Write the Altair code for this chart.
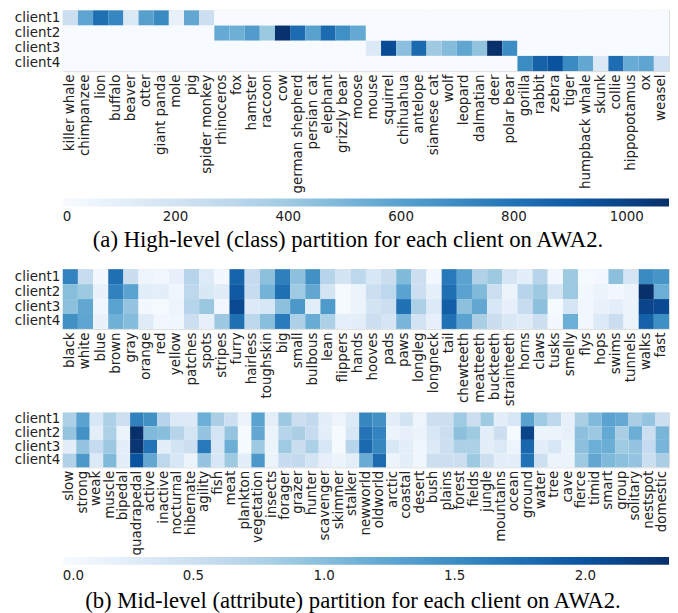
import altair as alt
import pandas as pd
import numpy as np

clients = ["client1", "client2", "client3", "client4"]

# ---- high-level (class) partition ----
classes = ["killer whale", "chimpanzee", "lion", "buffalo", "beaver", "otter", "giant panda", "mole", "pig", "spider monkey",
           "rhinoceros", "fox", "hamster", "raccoon", "cow", "german shepherd", "persian cat", "elephant", "grizzly bear", "moose",
           "mouse", "squirrel", "chihuahua", "antelope", "siamese cat", "wolf", "leopard", "dalmatian", "deer", "polar bear",
           "gorilla", "rabbit", "zebra", "tiger", "humpback whale", "skunk", "collie", "hippopotamus", "ox", "weasel"]
class_owner = ["client1"] * 10 + ["client2"] * 10 + ["client3"] * 10 + ["client4"] * 10
class_counts = [233, 582, 815, 716, 154, 606, 699, 80, 570, 233,
                557, 531, 623, 410, 1070, 826, 598, 830, 682, 563,
                148, 960, 454, 837, 400, 471, 576, 439, 1075, 694,
                698, 870, 936, 702, 567, 150, 822, 547, 582, 218]
class_max = 1075
class_ticks = [0, 200, 400, 600, 800, 1000]

# ---- mid-level (attribute) partition ----
attrs_a = ["black", "white", "blue", "brown", "gray", "orange", "red", "yellow", "patches", "spots",
           "stripes", "furry", "hairless", "toughskin", "big", "small", "bulbous", "lean", "flippers", "hands",
           "hooves", "pads", "paws", "longleg", "longneck", "tail", "chewteeth", "meatteeth", "buckteeth", "strainteeth",
           "horns", "claws", "tusks", "smelly", "flys", "hops", "swims", "tunnels", "walks", "fast"]
attr_a_c1 = [1.58, 0.56, 0.05, 1.76, 0.53, 0.12, 0.07, 0.19, 0.70, 0.30, 0.05, 1.86, 0.58, 0.97, 1.62, 0.97, 1.46, 0.70, 0.42, 0.65,
             0.37, 0.53, 1.04, 0.51, 0.05, 1.67, 1.28, 0.74, 0.87, 0.39, 0.23, 0.70, 0.05, 0.87, 0.02, 0.05, 0.97, 0.39, 1.51, 1.42]
attr_a_c2 = [1.00, 0.87, 0.16, 1.60, 1.28, 0.26, 0.23, 0.09, 0.65, 0.35, 0.28, 1.95, 0.56, 1.11, 1.76, 0.86, 1.23, 0.42, 0.02, 0.14,
             0.51, 0.65, 1.28, 0.51, 0.21, 1.76, 1.28, 1.04, 0.51, 0.14, 0.70, 0.87, 0.39, 0.87, 0.05, 0.14, 0.07, 0.14, 2.32, 1.16]
attr_a_c3 = [0.97, 1.23, 0.09, 1.28, 0.93, 0.05, 0.02, 0.12, 0.70, 0.90, 0.07, 2.09, 0.32, 0.37, 0.97, 1.39, 0.26, 1.37, 0.02, 0.14,
             0.42, 0.51, 1.74, 0.77, 0.32, 1.90, 0.97, 1.23, 0.37, 0.19, 0.56, 0.97, 0.02, 0.39, 0.07, 0.16, 0.23, 0.14, 2.13, 2.09]
attr_a_c4 = [1.46, 1.25, 0.16, 1.14, 1.02, 0.28, 0.07, 0.09, 0.51, 0.19, 0.88, 1.76, 0.65, 1.00, 1.65, 0.77, 1.18, 0.77, 0.21, 0.23,
             0.51, 0.39, 1.09, 0.44, 0.19, 1.74, 1.28, 0.79, 0.53, 0.35, 0.28, 0.51, 0.05, 1.16, 0.07, 0.32, 0.53, 0.14, 1.88, 1.48]

attrs_b = ["slow", "strong", "weak", "muscle", "bipedal", "quadrapedal", "active", "inactive", "nocturnal", "hibernate",
           "agility", "fish", "meat", "plankton", "vegetation", "insects", "forager", "grazer", "hunter", "scavenger",
           "skimmer", "stalker", "newworld", "oldworld", "arctic", "coastal", "desert", "bush", "plains", "forest",
           "fields", "jungle", "mountains", "ocean", "ground", "water", "tree", "cave", "fierce", "timid",
           "smart", "group", "solitary", "nestspot", "domestic"]
attr_b_c1 = [0.77, 1.28, 0.37, 0.77, 0.49, 1.60, 1.46, 0.70, 0.32, 0.32, 1.16, 0.79, 0.49, 0.14, 1.28, 0.23, 0.88, 0.51, 0.60, 0.23,
             0.12, 0.32, 1.55, 1.46, 0.23, 0.42, 0.12, 0.51, 0.51, 0.86, 0.51, 0.86, 0.23, 0.37, 1.28, 0.86, 0.65, 0.19, 0.79, 1.04,
             1.28, 1.21, 0.79, 0.93, 0.51]
attr_b_c2 = [0.93, 1.46, 0.23, 0.77, 0.14, 2.32, 1.04, 1.00, 0.70, 0.42, 0.93, 0.42, 0.93, 0.02, 1.23, 0.14, 0.70, 0.79, 0.58, 0.23,
             0.02, 0.37, 1.72, 1.58, 0.14, 0.19, 0.14, 0.37, 0.51, 0.97, 0.86, 0.23, 0.51, 0.02, 2.13, 0.14, 0.14, 0.19, 0.97, 0.88,
             1.21, 0.79, 1.16, 0.51, 1.09]
attr_b_c3 = [0.23, 0.93, 0.58, 0.88, 0.23, 2.27, 1.72, 0.23, 0.42, 0.51, 1.67, 0.37, 1.16, 0.02, 0.87, 0.14, 0.86, 0.53, 0.77, 0.37,
             0.02, 0.70, 1.81, 1.55, 0.37, 0.23, 0.09, 0.32, 0.51, 0.77, 0.77, 0.23, 0.32, 0.12, 1.83, 0.23, 0.37, 0.14, 0.97, 1.16,
             1.16, 0.86, 0.93, 0.58, 1.09]
attr_b_c4 = [0.74, 1.39, 0.32, 1.04, 0.23, 2.00, 1.23, 0.65, 0.37, 0.14, 0.93, 0.37, 0.87, 0.23, 1.39, 0.14, 0.58, 0.60, 0.42, 0.19,
             0.14, 0.23, 1.18, 1.79, 0.14, 0.23, 0.09, 0.51, 0.51, 0.51, 0.87, 0.51, 0.23, 0.23, 1.74, 0.49, 0.14, 0.14, 0.87, 1.23,
             1.04, 0.97, 0.93, 0.51, 0.79]
attr_max = 2.32
attr_ticks = [0.0, 0.5, 1.0, 1.5, 2.0]

caption_a = "(a) High-level (class) partition for each client on AWA2."
caption_b = "(b) Mid-level (attribute) partition for each client on AWA2."

BLUES = ["#f7fbff", "#deebf7", "#c6dbef", "#9ecae1", "#6baed6", "#4292c6", "#2171b5", "#08519c", "#08306b"]

# ---- tables ----
rows = []
for name, owner, cnt in zip(classes, class_owner, class_counts):
    for c in clients:
        rows.append({"name": name, "client": c, "value": cnt if c == owner else 0})
df_class = pd.DataFrame(rows)


def attr_table(names, series):
    recs = []
    for c, vals in zip(clients, series):
        for n, v in zip(names, vals):
            recs.append({"name": n, "client": c, "value": v})
    return pd.DataFrame(recs)


df_a = attr_table(attrs_a, [attr_a_c1, attr_a_c2, attr_a_c3, attr_a_c4])
df_b = attr_table(attrs_b, [attr_b_c1, attr_b_c2, attr_b_c3, attr_b_c4])

FONT = "DejaVu Sans"
FS = 13.5
W = 609


def heat(df, order, vmax, height, legend_values=None, legend_fmt="d", legend_offset=5,
         caption=None, cap_dx=0, cap_offset=6):
    stops = list(np.linspace(0, vmax, len(BLUES)))
    if legend_values is not None:
        legend = alt.Legend(orient="bottom", direction="horizontal", title=None,
                            gradientLength=W, gradientThickness=8, gradientStrokeWidth=0,
                            values=legend_values, format=legend_fmt, labelFont=FONT, labelFontSize=FS,
                            labelColor="#222", labelAlign="center", offset=legend_offset, padding=0,
                            labelOffset=4)
    else:
        legend = None
    ch = alt.Chart(df).mark_rect(stroke=None).encode(
        x=alt.X("name:N", sort=order, title=None,
                scale=alt.Scale(paddingInner=0, paddingOuter=0),
                axis=alt.Axis(labelAngle=-90, ticks=False, domain=False, labelPadding=3,
                              labelFont=FONT, labelFontSize=FS, labelColor="#222",
                              labelOverlap=False, labelLimit=300)),
        y=alt.Y("client:N", sort=clients, title=None,
                scale=alt.Scale(paddingInner=0, paddingOuter=0),
                axis=alt.Axis(ticks=False, domain=False, labelPadding=3,
                              labelFont=FONT, labelFontSize=FS, labelColor="#222")),
        color=alt.Color("value:Q", scale=alt.Scale(domain=stops, range=BLUES), legend=legend),
    )
    props = dict(width=W, height=height)
    if caption is not None:
        props["title"] = alt.TitleParams(caption, orient="bottom", anchor="middle", font="Liberation Serif",
                                         fontSize=22.8, fontWeight="normal", color="#000",
                                         offset=cap_offset, dx=cap_dx)
    return ch.properties(**props)


h1 = heat(df_class, classes, class_max, 61, class_ticks, "d", 5, caption_a, -18, 5)
h2 = heat(df_a, attrs_a, attr_max, 60)
h3 = heat(df_b, attrs_b, attr_max, 55, attr_ticks, ".1f", 1, caption_b, -13, 7)

lower = alt.vconcat(h2, h3, spacing=4).resolve_scale(color="independent")
chart = alt.vconcat(h1, lower, spacing=15).resolve_scale(color="independent").properties(
    padding={"left": 5, "top": 0, "right": 0, "bottom": 0}
).configure_view(stroke=None).configure(background="white")

chart.save("out.html", embed_options={"renderer": "svg", "actions": False})
